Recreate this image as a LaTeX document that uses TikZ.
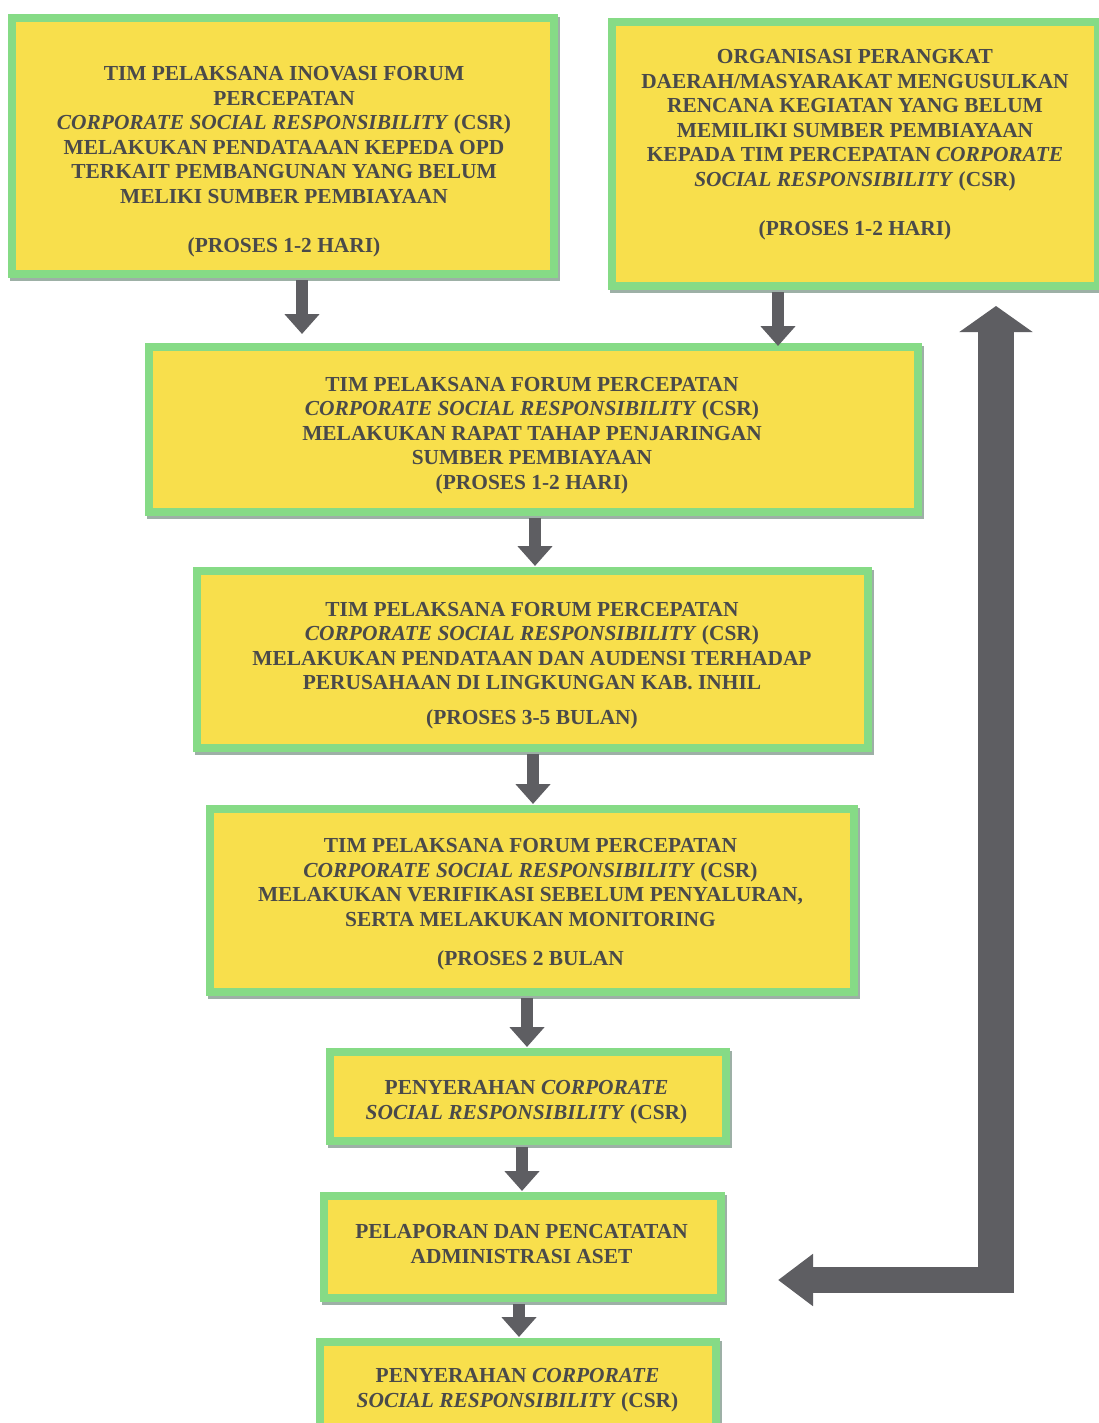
\documentclass[tikz,border=0pt]{standalone}
\usepackage{fontspec}
\setmainfont{Liberation Serif}
\usetikzlibrary{arrows.meta}
\definecolor{boxyellow}{HTML}{F8DF4C}
\definecolor{boxgreen}{HTML}{86DB86}
\definecolor{shadowc}{HTML}{9DB0A6}
\definecolor{arrowgray}{HTML}{5E5E62}
\definecolor{txtgray}{HTML}{4A4A4A}
\begin{document}
\begin{tikzpicture}[x=1pt,y=-1pt,
  flowbox/.style={draw=boxgreen, line width=8pt, fill=boxyellow, inner sep=0pt, outer sep=4pt,
    preaction={draw=shadowc, line width=8pt, transform canvas={shift={(1.5pt,-3pt)}}}},
  txt/.style={text=txtgray, font=\bfseries\fontsize{21.4}{24.5}\selectfont, align=center, inner sep=0pt},
  flow/.style={draw=arrowgray, line width=12pt, -{Triangle[width=34pt,length=20pt]}, shorten <=2pt, shorten >=1pt},
  bigflow/.style={draw=arrowgray}
]
\useasboundingbox (0,0) rectangle (1099,1423);
\fill[white] (0,0) rectangle (1099,1423);

% boxes
\node[flowbox, minimum width=542pt, minimum height=256pt] (A) at (283,146) {};
\node[flowbox, minimum width=486pt, minimum height=264pt] (B) at (855,154) {};
\node[flowbox, minimum width=769pt, minimum height=165pt] (C) at (533.5,429.5) {};
\node[flowbox, minimum width=671pt, minimum height=177pt] (D) at (532.5,659.5) {};
\node[flowbox, minimum width=644pt, minimum height=183pt] (E) at (532,900.5) {};
\node[flowbox, minimum width=396pt, minimum height=89pt] (F) at (528,1096.5) {};
\node[flowbox, minimum width=397pt, minimum height=102pt] (G) at (522.5,1247) {};
\node[flowbox, minimum width=396pt, minimum height=94pt] (H) at (518,1389) {};

% texts
\node[txt] (At) at (284,161.5) {TIM PELAKSANA INOVASI FORUM\\ PERCEPATAN\\ \textit{CORPORATE SOCIAL RESPONSIBILITY} (CSR)\\ MELAKUKAN PENDATAAAN KEPEDA OPD\\ TERKAIT PEMBANGUNAN YANG BELUM\\ MELIKI SUMBER PEMBIAYAAN\\[24.5pt] (PROSES 1-2 HARI)};
\node[txt] (Bt) at (855,144.5) {ORGANISASI PERANGKAT\\ DAERAH/MASYARAKAT MENGUSULKAN\\ RENCANA KEGIATAN YANG BELUM\\ MEMILIKI SUMBER PEMBIAYAAN\\ KEPADA TIM PERCEPATAN \textit{CORPORATE}\\ \textit{SOCIAL RESPONSIBILITY} (CSR)\\[24.5pt] (PROSES 1-2 HARI)};
\node[txt] (Ct) at (532,435.5) {TIM PELAKSANA FORUM PERCEPATAN\\ \textit{CORPORATE SOCIAL RESPONSIBILITY} (CSR)\\ MELAKUKAN RAPAT TAHAP PENJARINGAN\\ SUMBER PEMBIAYAAN\\ (PROSES 1-2 HARI)};
\node[txt] (Dt) at (532,665.5) {TIM PELAKSANA FORUM PERCEPATAN\\ \textit{CORPORATE SOCIAL RESPONSIBILITY} (CSR)\\ MELAKUKAN PENDATAAN DAN AUDENSI TERHADAP\\ PERUSAHAAN DI LINGKUNGAN KAB. INHIL\\[10pt] (PROSES 3-5 BULAN)};
\node[txt] (Et) at (530.5,904.5) {TIM PELAKSANA FORUM PERCEPATAN\\ \textit{CORPORATE SOCIAL RESPONSIBILITY} (CSR)\\ MELAKUKAN VERIFIKASI SEBELUM PENYALURAN,\\ SERTA MELAKUKAN MONITORING\\[15pt] (PROSES 2 BULAN};
\node[txt] (Ft) at (526.5,1102) {PENYERAHAN \textit{CORPORATE}\\ \textit{SOCIAL RESPONSIBILITY} (CSR)};
\node[txt] (Gt) at (521.5,1244) {PELAPORAN DAN PENCATATAN\\ ADMINISTRASI ASET};
\node[txt] (Ht) at (517.5,1390) {PENYERAHAN \textit{CORPORATE}\\ \textit{SOCIAL RESPONSIBILITY} (CSR)};

% small arrows
\coordinate (xa) at (302,0);
\coordinate (xb) at (778,0);
\coordinate (xc) at (535,0);
\coordinate (xd) at (533,0);
\coordinate (xe) at (527,0);
\coordinate (xf) at (522,0);
\coordinate (xg) at (519,0);
\draw[flow, shorten >=9pt] (A.south -| xa) -- (C.north -| xa);
\draw[flow, shorten >=-3pt] (B.south -| xb) -- (C.north -| xb);
\draw[flow] (C.south -| xc) -- (D.north -| xc);
\draw[flow] (D.south -| xd) -- (E.north -| xd);
\draw[flow] (E.south -| xe) -- (F.north -| xe);
\draw[flow] (F.south -| xf) -- (G.north -| xf);
\draw[flow] (G.south -| xg) -- (H.north -| xg);

% loop-back arrow
\coordinate (lc) at (996,1293);
\coordinate (lh) at (1014,1280);
\draw[bigflow, line width=36pt, -{Triangle[width=72pt,length=26pt]}, shorten >=16pt] (lc) -- (B.south -| lc);
\draw[bigflow, line width=26pt, -{Triangle[width=50pt,length=35pt]}, shorten >=53pt] (lh) -- (G.east |- lh);
\end{tikzpicture}
\end{document}
